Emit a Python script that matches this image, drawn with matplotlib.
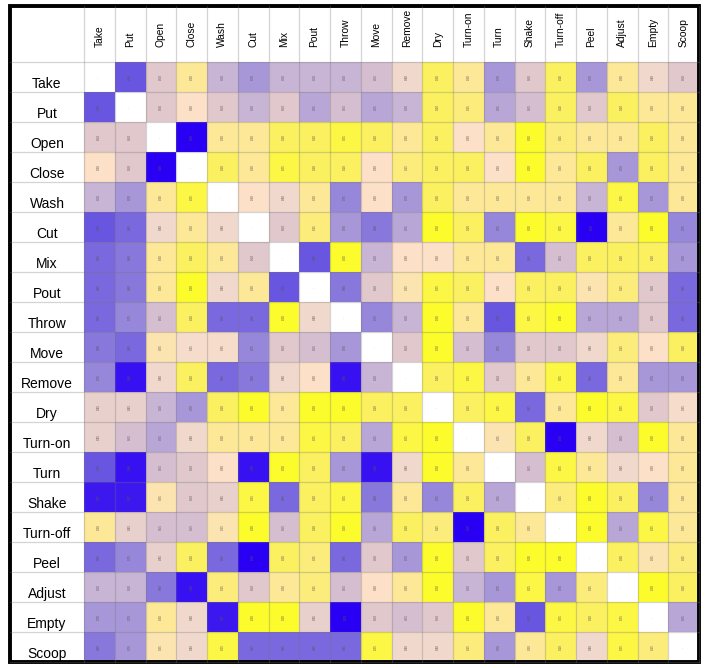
import numpy as np
import matplotlib.pyplot as plt
from matplotlib import font_manager
from matplotlib.colors import LinearSegmentedColormap
from matplotlib.patches import Rectangle

installed = {f.name for f in font_manager.fontManager.ttflist}
narrow = "Liberation Sans Narrow" in installed
plt.rcParams['font.family'] = (['Liberation Sans Narrow'] if narrow else []) + ['Liberation Sans', 'DejaVu Sans']

actions = ["Take", "Put", "Open", "Close", "Wash", "Cut", "Mix", "Pout", "Throw", "Move",
           "Remove", "Dry", "Turn-on", "Turn", "Shake", "Turn-off", "Peel", "Adjust",
           "Empty", "Scoop"]

nan = np.nan
# colour level: 0 = bright yellow ... 10 = deep blue, nan = diagonal
levels = [
    [nan, 9, 5, 2, 6, 7, 6, 6, 6, 5.5, 4, 1, 2, 7, 5, 1, 7, 2, 4, 5],
    [9, nan, 5, 3, 5, 6, 5, 6.5, 5.5, 6.5, 6, 1, 1.5, 6.5, 5.5, 1, 5, 1, 2, 2],
    [5, 5, nan, 10, 2, 2, 1, 1, 0.5, 1, 2, 1, 3, 2, 0, 1.5, 2, 2, 1, 2],
    [3, 5, 10, nan, 1, 2, 0.5, 1, 1, 3, 1.5, 1, 1, 3, 0, 2, 1, 7, 1, 2],
    [6, 7, 2, 0.5, nan, 3, 4, 2, 7.5, 3, 7, 1, 2, 2, 2, 2, 6, 0.5, 7, 2],
    [9, 8.5, 4, 2, 4, nan, 5, 1.5, 7, 8, 6.5, 0, 1, 7.5, 0, 0.5, 10, 2, 0, 7.5],
    [8.5, 8, 2, 1, 2, 5, nan, 9, 0, 6, 3, 3, 2, 2, 8.5, 5.5, 1, 1, 1, 7],
    [8.5, 8, 2, 0, 4, 2, 9, nan, 8, 5, 2.5, 0.5, 1, 3, 1, 1, 2.5, 1.5, 5, 8.5],
    [8.5, 7.5, 5.5, 1, 8.5, 8.5, 0, 4, nan, 7.5, 6, 0, 2, 9, 0.5, 0, 6.5, 6.5, 5, 8.5],
    [8, 8.5, 2.5, 3.5, 3.5, 7.5, 5, 5.5, 7, nan, 5, 0, 5.5, 7.5, 5, 5, 4, 1.5, 3, 1],
    [7.5, 9.8, 4, 1, 8.5, 8, 4, 3, 9.8, 6, nan, 1, 0.5, 5, 2, 0.5, 8.5, 2, 7, 7],
    [4.5, 4.5, 6, 7, 1, 0, 2, 0, 0, 1, 1, nan, 1, 0.5, 8.5, 2, 0, 0.5, 5, 3.5],
    [4.5, 5.5, 6.5, 4, 2, 2, 2, 0.5, 1, 6.5, 0.5, 0, nan, 2.5, 1, 10, 4, 5.5, 0, 2],
    [9, 9.8, 5.5, 5, 3, 9.8, 0, 1, 7, 9.8, 4, 0, 2, nan, 5.5, 0.5, 2, 4, 3, 2],
    [9.7, 9.7, 2.5, 5, 4.5, 0.5, 8.5, 1, 0.5, 8, 2, 7.5, 1, 6.5, nan, 1.5, 0, 1, 7.5, 2],
    [2, 4.5, 5.5, 5.5, 2.5, 0, 5.5, 1, 0, 6.5, 1, 1.5, 10, 1, 2, nan, 0, 6.5, 0.5, 2],
    [8.5, 7.5, 4.5, 1, 8.5, 10, 1, 1.5, 8.5, 5, 7, 0, 5, 1, 0, 0, nan, 1, 2.5, 1.5],
    [6, 6, 8, 9.8, 1.5, 5, 2, 1.5, 5.5, 3, 2, 0, 6, 7, 0.5, 7, 1.5, nan, 0, 1],
    [7, 7, 2, 4, 9.7, 0, 0, 4.5, 10, 5, 5.5, 5, 0, 2, 9, 0.5, 1, 0.5, nan, 6.5],
    [8, 7, 2.5, 4, 0.5, 8.5, 8.5, 8.5, 8.5, 0.5, 4, 4, 1.5, 7, 2, 1, 4, 0.5, 1.5, nan],
]

palette = ["#fcfc2c", "#fbf060", "#fde898", "#fce0c8", "#f0d8cc", "#e0c8cc",
           "#c8b4d4", "#a898d8", "#8878dc", "#6a58e0", "#2a00f5"]
cmap = LinearSegmentedColormap.from_list("yb", palette)

n = len(actions)
W, H = 711, 668
x0, x1, y0, y1 = 84, 699, 62, 662

fig = plt.figure(figsize=(W / 100, H / 100), dpi=100)
ax = fig.add_axes([x0 / W, 1 - y1 / H, (x1 - x0) / W, (y1 - y0) / H])

vals = np.ma.masked_invalid(np.array(levels, dtype=float))
ax.pcolormesh(vals, cmap=cmap, vmin=0, vmax=10)
ax.set_xlim(0, n)
ax.set_ylim(n, 0)
ax.axis("off")

# header / label areas in cell units
cell_h = (y1 - y0) / n
head_h = (y0 - 6) / cell_h
label_w = (x0 - 10) / ((x1 - x0) / n)

grid = (0.45, 0.45, 0.45, 0.3)
for k in range(n + 1):
    ax.plot([k, k], [-head_h, n], color=grid, lw=0.9, clip_on=False)
    ax.plot([-label_w, n], [k, k], color=grid, lw=0.9, clip_on=False)

row_fs, col_fs = (11, 8.6) if narrow else (10, 7.4)
for j, name in enumerate(actions):
    ax.text(j + 0.5, -15 / cell_h, name, rotation=90, rotation_mode="anchor",
            ha="left", va="center", fontsize=col_fs, clip_on=False)
    ax.text(-label_w / 2, j + 1 - 4 / cell_h, name, ha="center", va="baseline",
            fontsize=row_fs, clip_on=False)

# tiny cell values
for i in range(n):
    for j in range(n):
        v = levels[i][j]
        s = "·" if np.isnan(v) else f"{v / 10:.2f}"
        ax.text(j + 0.5, i + 0.5, s, rotation=90, ha="center", va="center",
                fontsize=2.2, color="#555555")

ax.add_patch(Rectangle((-label_w, -head_h), n + label_w, n + head_h, fill=False,
                       ec="black", lw=2.8, clip_on=False))

fig.savefig("out.png", dpi=100)
